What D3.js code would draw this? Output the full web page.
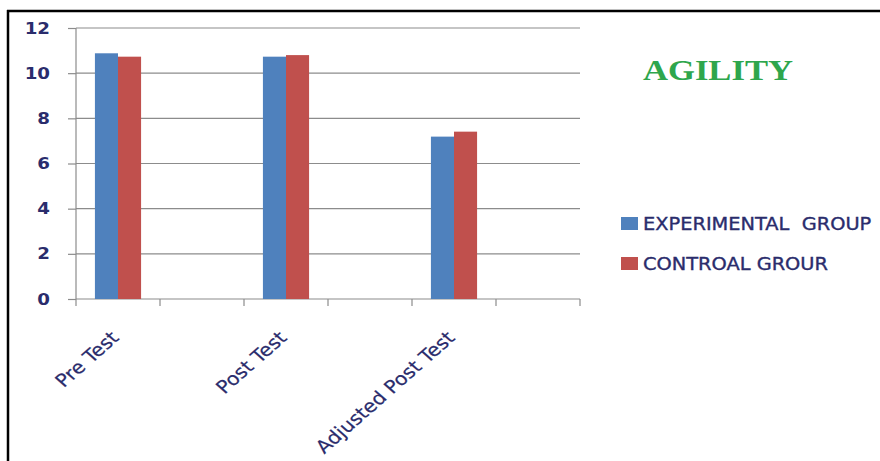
<!DOCTYPE html>
<html>
<head>
<meta charset="utf-8">
<script src="https://cdn.jsdelivr.net/npm/d3@7"></script>
<style>
  body { margin: 0; background: #fff; }
  text { font-family: "DejaVu Sans", "Open Sans", sans-serif; }
</style>
</head>
<body>
<div id="chart"></div>
<script>
var categories = ["Pre Test", "", "Post Test", " ", "Adjusted Post Test", "  "];
var seriesNames = ["EXPERIMENTAL  GROUP", "CONTROAL GROUR"];
var experimental = [10.88, null, 10.73, null, 7.19, null];
var control = [10.73, null, 10.8, null, 7.41, null];
var yTicks = [0, 2, 4, 6, 8, 10, 12];
var colors = ["#4f81bd", "#c0504d"];

var W = 880, H = 461;
var margin = { left: 76, top: 28, right: 300, bottom: 162 };
var width = 580 - margin.left;
var height = 299 - margin.top;
var ink = "#2a2c6c";
var stretch = 1.14; // the source picture is a little wider than tall

var svg = d3
  .select("#chart")
  .append("svg")
  .attr("width", W)
  .attr("height", H);

// frame (only top and left edges show in the picture)
svg.append("line").attr("x1", 7).attr("x2", W).attr("y1", 11).attr("y2", 11)
  .attr("stroke", "#000").attr("stroke-width", 2.5);
svg.append("line").attr("x1", 8).attr("x2", 8).attr("y1", 10).attr("y2", H)
  .attr("stroke", "#000").attr("stroke-width", 2.5);

var g = svg.append("g")
  .attr("transform", "translate(" + margin.left + "," + margin.top + ")");

var x0 = d3.scaleBand().domain(categories).range([0, width]).padding(0);
var x1 = d3.scaleBand().domain([0, 1]).range([0, x0.bandwidth()]).paddingInner(0).paddingOuter(0.82);
var y = d3.scaleLinear().domain([0, 12]).range([height, 0]);

// gridlines
g.append("g")
  .selectAll("line")
  .data(yTicks.slice(1))
  .enter()
  .append("line")
  .attr("x1", 0)
  .attr("x2", width)
  .attr("y1", d => y(d))
  .attr("y2", d => y(d))
  .attr("stroke", "#8c8c8c")
  .attr("stroke-width", 1.2);

// y axis
var yAxis = g.append("g")
  .call(d3.axisLeft(y).tickValues(yTicks).tickSize(8).tickPadding(18));
yAxis.select(".domain").attr("stroke", "#8c8c8c").attr("stroke-width", 1.2).attr("d", "M0," + height + "V0");
yAxis.selectAll(".tick line").attr("stroke", "#8c8c8c").attr("stroke-width", 1.2);
yAxis.selectAll("text")
  .style("font-family", "'DejaVu Sans', sans-serif")
  .style("font-size", "16px")
  .style("font-weight", "bold")
  .attr("transform", "translate(-26,0) scale(" + stretch + ",1) translate(26,0)")
  .attr("fill", ink);

// x axis with ticks between bands
var xAxis = g.append("g").attr("transform", "translate(0," + height + ")");
xAxis.append("line").attr("x1", 0).attr("x2", width).attr("y1", 0).attr("y2", 0)
  .attr("stroke", "#8c8c8c").attr("stroke-width", 1.2);
xAxis.selectAll(".xtick")
  .data(categories.concat(["end"]))
  .enter()
  .append("line")
  .attr("class", "xtick")
  .attr("x1", (d, i) => i < categories.length ? x0(d) : width)
  .attr("x2", (d, i) => i < categories.length ? x0(d) : width)
  .attr("y1", 0)
  .attr("y2", 7)
  .attr("stroke", "#8c8c8c")
  .attr("stroke-width", 1.2);
xAxis.selectAll(".xlabel")
  .data(categories)
  .enter()
  .append("text")
  .attr("class", "xlabel")
  .attr("transform", d => "translate(" + (x0(d) + x0.bandwidth() / 2 + 2) + ",40) scale(" + stretch + ",1) rotate(-45)")
  .attr("text-anchor", "end")
  .style("font-size", "18px")
  .attr("fill", ink)
  .attr("stroke", ink)
  .attr("stroke-width", 0.2)
  .text(d => d.trim());

// bars
var rows = categories.map((c, i) => ({ cat: c, vals: [experimental[i], control[i]] }));
g.selectAll(".grp")
  .data(rows)
  .enter()
  .append("g")
  .attr("class", "grp")
  .attr("transform", d => "translate(" + x0(d.cat) + ",0)")
  .selectAll("rect")
  .data(d => d.vals.map((v, k) => ({ k: k, v: v })).filter(e => e.v !== null))
  .enter()
  .append("rect")
  .attr("x", d => x1(d.k))
  .attr("width", x1.bandwidth())
  .attr("y", d => y(d.v))
  .attr("height", d => height - y(d.v))
  .attr("fill", d => colors[d.k]);

// title
svg.append("text")
  .attr("x", 643)
  .attr("y", 80)
  .attr("textLength", 150)
  .attr("lengthAdjust", "spacingAndGlyphs")
  .style("font-family", "'Liberation Serif', 'Times New Roman', serif")
  .style("font-weight", "bold")
  .style("font-size", "30px")
  .attr("fill", "#2ea64c")
  .text("AGILITY");

// legend
var legend = svg.selectAll(".legend")
  .data(seriesNames)
  .enter()
  .append("g")
  .attr("class", "legend")
  .attr("transform", (d, i) => "translate(621," + (217 + i * 40) + ")");
legend.append("rect")
  .attr("width", 17)
  .attr("height", 13)
  .attr("fill", (d, i) => colors[i]);
legend.append("text")
  .attr("transform", "translate(22,13) scale(" + stretch + ",1)")
  .style("font-size", "17px")
  .style("white-space", "pre")
  .attr("fill", ink)
  .attr("stroke", ink)
  .attr("stroke-width", 0.35)
  .text(d => d);
</script>
</body>
</html>
